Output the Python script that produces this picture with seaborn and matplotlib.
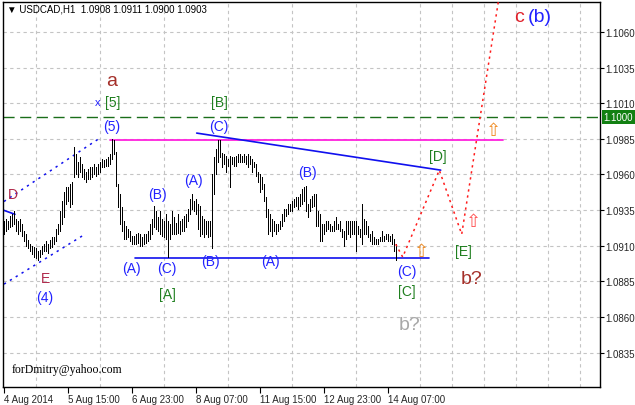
import matplotlib
matplotlib.use("Agg")
import matplotlib.pyplot as plt
import seaborn as sns
import pandas as pd
from matplotlib.transforms import blended_transform_factory

# ---------------- data ----------------
title_text = "USDCAD,H1  1.0908 1.0911 1.0900 1.0903"
signature = "forDmitry@yahoo.com"

bar_high = [
    1.0927, 1.0929, 1.0927, 1.0931, 1.0932, 1.0934, 1.0929, 1.0927, 1.0929, 1.0925,
    1.0920, 1.0918, 1.0914, 1.0911, 1.0910, 1.0909, 1.0908, 1.0906, 1.0907, 1.0910,
    1.0911, 1.0913, 1.0911, 1.0914, 1.0916, 1.0916, 1.0922, 1.0925, 1.0934, 1.0941,
    1.0948, 1.0951, 1.0951, 1.0953, 1.0955, 1.0979, 1.0974, 1.0969, 1.0972, 1.0967,
    1.0964, 1.0962, 1.0964, 1.0965, 1.0965, 1.0967, 1.0965, 1.0967, 1.0969, 1.0971,
    1.0970, 1.0971, 1.0972, 1.0974, 1.0985, 1.0984, 1.0976, 1.0953, 1.0946, 1.0937,
    1.0927, 1.0924, 1.0922, 1.0920, 1.0917, 1.0917, 1.0918, 1.0919, 1.0918, 1.0916,
    1.0918, 1.0918, 1.0920, 1.0925, 1.0929, 1.0938, 1.0934, 1.0930, 1.0934, 1.0929,
    1.0927, 1.0932, 1.0927, 1.0925, 1.0934, 1.0930, 1.0926, 1.0932, 1.0927, 1.0929,
    1.0931, 1.0932, 1.0936, 1.0943, 1.0946, 1.0941, 1.0943, 1.0939, 1.0938, 1.0931,
    1.0929, 1.0927, 1.0927, 1.0927, 1.0960, 1.0972, 1.0978, 1.0984, 1.0984, 1.0975,
    1.0974, 1.0973, 1.0971, 1.0973, 1.0972, 1.0972, 1.0973, 1.0974, 1.0974, 1.0973,
    1.0974, 1.0973, 1.0974, 1.0973, 1.0971, 1.0969, 1.0967, 1.0962, 1.0960, 1.0958,
    1.0953, 1.0944, 1.0936, 1.0932, 1.0929, 1.0927, 1.0925, 1.0925, 1.0927, 1.0932,
    1.0936, 1.0936, 1.0939, 1.0939, 1.0941, 1.0943, 1.0944, 1.0944, 1.0946, 1.0950,
    1.0951, 1.0952, 1.0939, 1.0943, 1.0945, 1.0946, 1.0946, 1.0934, 1.0932, 1.0925,
    1.0925, 1.0927, 1.0927, 1.0925, 1.0924, 1.0927, 1.0930, 1.0925, 1.0927, 1.0922,
    1.0920, 1.0927, 1.0927, 1.0927, 1.0927, 1.0927, 1.0927, 1.0924, 1.0922, 1.0939,
    1.0929, 1.0927, 1.0924, 1.0918, 1.0920, 1.0916, 1.0915, 1.0915, 1.0916, 1.0920,
    1.0917, 1.0918, 1.0918, 1.0917, 1.0918, 1.0915, 1.0911,
]
bar_low = [
    1.0918, 1.0920, 1.0922, 1.0923, 1.0924, 1.0925, 1.0920, 1.0918, 1.0920, 1.0917,
    1.0913, 1.0910, 1.0908, 1.0906, 1.0904, 1.0902, 1.0901, 1.0900, 1.0902, 1.0904,
    1.0906, 1.0906, 1.0905, 1.0908, 1.0909, 1.0911, 1.0913, 1.0918, 1.0920, 1.0925,
    1.0930, 1.0939, 1.0941, 1.0937, 1.0939, 1.0958, 1.0960, 1.0958, 1.0962, 1.0958,
    1.0957, 1.0955, 1.0957, 1.0957, 1.0958, 1.0960, 1.0959, 1.0960, 1.0962, 1.0965,
    1.0965, 1.0966, 1.0966, 1.0967, 1.0971, 1.0974, 1.0952, 1.0937, 1.0925, 1.0920,
    1.0915, 1.0915, 1.0916, 1.0913, 1.0911, 1.0911, 1.0911, 1.0912, 1.0910, 1.0910,
    1.0911, 1.0912, 1.0913, 1.0915, 1.0918, 1.0923, 1.0922, 1.0920, 1.0918, 1.0917,
    1.0916, 1.0915, 1.0902, 1.0915, 1.0918, 1.0918, 1.0918, 1.0919, 1.0918, 1.0920,
    1.0920, 1.0923, 1.0927, 1.0932, 1.0936, 1.0934, 1.0932, 1.0922, 1.0917, 1.0918,
    1.0916, 1.0918, 1.0916, 1.0917, 1.0908, 1.0946, 1.0960, 1.0969, 1.0972, 1.0965,
    1.0967, 1.0962, 1.0966, 1.0951, 1.0967, 1.0966, 1.0966, 1.0969, 1.0969, 1.0969,
    1.0969, 1.0967, 1.0965, 1.0967, 1.0962, 1.0965, 1.0959, 1.0955, 1.0948, 1.0950,
    1.0941, 1.0930, 1.0918, 1.0920, 1.0917, 1.0920, 1.0918, 1.0920, 1.0922, 1.0924,
    1.0927, 1.0931, 1.0932, 1.0934, 1.0934, 1.0937, 1.0938, 1.0936, 1.0938, 1.0939,
    1.0941, 1.0934, 1.0930, 1.0934, 1.0937, 1.0938, 1.0924, 1.0924, 1.0913, 1.0913,
    1.0918, 1.0920, 1.0922, 1.0920, 1.0920, 1.0920, 1.0922, 1.0922, 1.0920, 1.0916,
    1.0910, 1.0915, 1.0918, 1.0916, 1.0918, 1.0918, 1.0906, 1.0918, 1.0916, 1.0911,
    1.0918, 1.0918, 1.0916, 1.0913, 1.0911, 1.0911, 1.0911, 1.0911, 1.0913, 1.0913,
    1.0913, 1.0915, 1.0913, 1.0913, 1.0911, 1.0906, 1.0900,
]

x_tick_bars = [0, 32, 64, 96, 128, 160, 192]
x_tick_labels = ["4 Aug 2014", "5 Aug 15:00", "6 Aug 23:00", "8 Aug 07:00",
                 "11 Aug 15:00", "12 Aug 23:00", "14 Aug 07:00"]
y_tick_values = [1.0835, 1.0860, 1.0885, 1.0910, 1.0935, 1.0960, 1.0985,
                 1.1010, 1.1035, 1.1060]

level_price = 1.1000
magenta_bars, magenta_prices = [53.2, 249.7], [1.0984, 1.0984]
support_bars, support_prices = [65.7, 212.7], [1.0901, 1.0901]
resist_bars, resist_prices = [96.5, 218.5], [1.0989, 1.0963]
chan_up_bars, chan_up_prices = [0.15, 48.6], [1.0941, 1.0986]
chan_lo_bars, chan_lo_prices = [0.15, 40.65], [1.0883, 1.0918]
old_line_bars, old_line_prices = [-0.35, 5.65], [1.0935, 1.0932]
proj_bars = [196, 199.5, 217.8, 229, 248.3]
proj_prices = [1.0911, 1.0902, 1.0963, 1.0918, 1.1090]

BLUE = "#2222ff"
GREEN = "#1f7f1f"
CRIMSON = "#b0284a"
BROWN = "#a5302a"
GRAY = "#a8a8a8"
RED = "#e0202a"

wave_labels = [
    ("a", 54.2, 1.1026, BROWN, 14),
    ("x", 47.2, 1.1011, BLUE, 8),
    ("[5]", 54.7, 1.1011, GREEN, 10),
    ("(5)", 54.2, 1.0994, BLUE, 10),
    ("[B]", 107.7, 1.1011, GREEN, 10),
    ("(C)", 107.7, 1.0994, BLUE, 10),
    ("D", 4.65, 1.0946, CRIMSON, 10),
    ("E", 20.65, 1.0887, CRIMSON, 10),
    ("(4)", 20.65, 1.0874, BLUE, 10),
    ("(A)", 63.65, 1.0894, BLUE, 10),
    ("(B)", 76.65, 1.0946, BLUE, 10),
    ("(C)", 81.65, 1.0894, BLUE, 10),
    ("[A]", 81.65, 1.0876, GREEN, 10),
    ("(A)", 94.65, 1.0956, BLUE, 10),
    ("(B)", 103.15, 1.0899, BLUE, 10),
    ("(A)", 133.15, 1.0899, BLUE, 10),
    ("(B)", 151.65, 1.0962, BLUE, 10),
    ("(C)", 201.65, 1.0892, BLUE, 10),
    ("[C]", 201.65, 1.0878, GREEN, 10),
    ("[D]", 217.15, 1.0973, GREEN, 10),
    ("[E]", 229.65, 1.0906, GREEN, 10),
    ("b?", 234.15, 1.0887, BROWN, 14),
    ("b?", 203.15, 1.0855, GRAY, 14),
    ("c", 257.65, 1.1071, RED, 14),
    ("(b)", 268.15, 1.1071, BLUE, 14),
]
arrow_marks = [(208.65, 1.0906, "#f08a20"), (234.65, 1.0927, "#ff5050"),
               (244.65, 1.0991, "#f08a20")]

# ---------------- figure ----------------
sns.set_style("white")
plt.rcParams["font.family"] = ["Liberation Sans", "DejaVu Sans"]

W, H = 635, 406
fig = plt.figure(figsize=(W / 100, H / 100), dpi=100)
ax = fig.add_axes([3 / W, (H - 387.7) / H, 597 / W, 384.4 / H])
ax.set_xlim(-0.35, 298.15)
ax.set_ylim(1.08110, 1.10808)

for s in ax.spines.values():
    s.set_color("black")
    s.set_linewidth(1.0)

# grid
ax.set_xticks(list(range(0, 297, 16)), minor=True)
ax.set_xticks(x_tick_bars)
ax.set_xticklabels(x_tick_labels)
ax.set_yticks(y_tick_values)
ax.set_yticklabels([f"{v:.4f}" for v in y_tick_values])
ax.set_axisbelow(True)
ax.grid(False)
ax.xaxis.grid(True, which="minor", color="#c4c4c4", linestyle=(0, (3, 3)), lw=0.8)
ax.yaxis.grid(True, which="major", color="#c4c4c4", linestyle=(0, (3, 3)), lw=0.8)

ax.yaxis.tick_right()
ax.tick_params(axis="y", which="major", direction="out", length=3, width=0.8,
               color="black", labelsize=7, pad=1, right=True, left=False)
ax.tick_params(axis="x", which="major", direction="out", length=4, width=0.8,
               color="black", labelsize=7, pad=1, bottom=True)
ax.tick_params(axis="x", which="minor", length=0)
for lab in ax.get_xticklabels():
    lab.set_horizontalalignment("left")

# price bars
df = pd.DataFrame({"bar": range(len(bar_high)), "high": bar_high, "low": bar_low})
ax.vlines(df["bar"], df["low"], df["high"], color="black", lw=0.5,
          antialiased=False, zorder=3)

# horizontal level
ax.axhline(level_price, color="#1a6e1a", lw=1.0, linestyle=(0, (8, 4)), zorder=2)

# trend lines
ax.plot(magenta_bars, magenta_prices, color="#ff22dd", lw=1.3, zorder=2)
ax.plot(support_bars, support_prices, color="#1010ee", lw=1.2, zorder=2)
ax.plot(resist_bars, resist_prices, color="#1010ee", lw=1.2, zorder=2)
ax.plot(old_line_bars, old_line_prices, color="#1010ee", lw=1.2, zorder=2)
ax.plot(chan_up_bars, chan_up_prices, color="#1010ee", lw=1.1,
        linestyle=(0, (1.5, 3)), zorder=2)
ax.plot(chan_lo_bars, chan_lo_prices, color="#1010ee", lw=1.1,
        linestyle=(0, (1.5, 3)), zorder=2)

proj = pd.DataFrame({"bar": proj_bars, "price": proj_prices})
sns.lineplot(data=proj, x="bar", y="price", ax=ax, color="#ff1a1a", lw=1.1,
             linestyle=(0, (1.5, 2.5)), sort=False, estimator=None, zorder=4)
ax.set_xlabel("")
ax.set_ylabel("")

# wave labels
for txt, bx, py, col, fs in wave_labels:
    ax.text(bx, py, txt, color=col, fontsize=fs, ha="center", va="center",
            zorder=6)
for bx, py, col in arrow_marks:
    ax.text(bx, py, "\u21e7", color=col, fontsize=13, ha="center", va="center",
            family=["DejaVu Sans"], zorder=6)

# current level box on price scale
tr = blended_transform_factory(ax.transAxes, ax.transData)
ax.text(1.006, level_price, "1.1000", transform=tr, fontsize=7, color="white",
        ha="left", va="center", clip_on=False,
        bbox=dict(boxstyle="square,pad=0.2", facecolor="#128012", edgecolor="none"))

# title and signature
fig.text(7 / W, 1 - 10 / H, "\u25bc " + title_text, fontsize=7, color="black",
         ha="left", va="center", family=["Liberation Sans", "DejaVu Sans"])
fig.text(12 / W, 1 - 370 / H, signature, fontsize=8.5, color="black",
         ha="left", va="center", family=["Liberation Serif"])

fig.savefig("out.png", dpi=100, facecolor="white")
